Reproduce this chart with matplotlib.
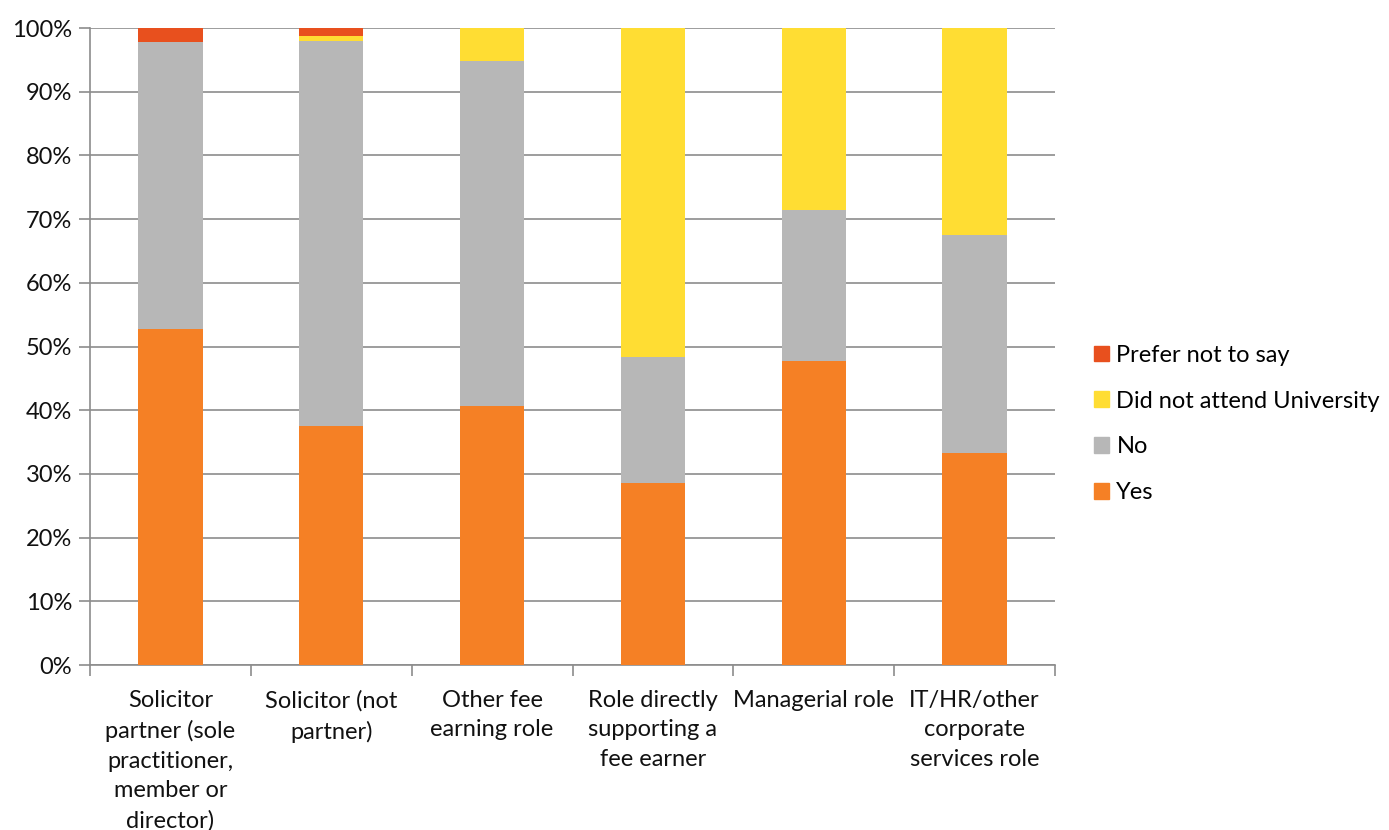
import matplotlib
matplotlib.use("Agg")
import matplotlib.pyplot as plt
from matplotlib.patches import Patch
from matplotlib.ticker import FixedLocator, PercentFormatter

plt.rcParams['font.family'] = ['Lato', 'DejaVu Sans']

categories = ["Solicitor\npartner (sole\npractitioner,\nmember or\ndirector)",
              "Solicitor (not\npartner)",
              "Other fee\nearning role",
              "Role directly\nsupporting a\nfee earner",
              "Managerial role",
              "IT/HR/other\ncorporate\nservices role"]
yes = [52.7, 37.5, 40.7, 28.6, 47.7, 33.3]
no = [45.1, 60.5, 54.1, 19.8, 23.7, 34.2]
did_not_attend = [0.0, 0.7, 5.2, 51.6, 28.6, 32.5]
prefer_not = [2.2, 1.3, 0.0, 0.0, 0.0, 0.0]

series = [("Yes", yes, "#F58025"),
          ("No", no, "#B7B7B7"),
          ("Did not attend University", did_not_attend, "#FFDD33"),
          ("Prefer not to say", prefer_not, "#E8501E")]

FS = 17

fig = plt.figure(figsize=(13.89, 8.3), dpi=100)
ax = fig.add_axes([90/1389, 1-665/830, (1055-90)/1389, (665-28)/830])

x = list(range(len(categories)))
bottom = [0.0]*len(categories)
for name, vals, col in series:
    ax.bar(x, vals, bottom=bottom, width=0.4, color=col, zorder=3, label=name)
    bottom = [b+v for b, v in zip(bottom, vals)]

ax.set_xlim(-0.5, len(categories)-0.5)
ax.set_ylim(0, 100)
ax.yaxis.set_major_locator(FixedLocator(range(0, 101, 10)))
ax.yaxis.set_major_formatter(PercentFormatter(decimals=0))
ax.grid(axis='y', color='#8C8C8C', linewidth=1.2, zorder=0)
ax.set_axisbelow(True)

ax.set_xticks([i+0.5 for i in range(-1, len(categories))])
ax.set_xticklabels([])
ax.set_xticks(x, minor=True)
ax.set_xticklabels(categories, minor=True, fontsize=FS, linespacing=1.5, color='#111111', va='top')
ax.tick_params(axis='x', which='minor', length=0, pad=18)
ax.tick_params(axis='x', which='major', length=8, color='#8C8C8C', width=1.2)
ax.tick_params(axis='y', length=8, color='#8C8C8C', width=1.2, labelsize=FS, labelcolor='#111111', pad=5)

for s in ['top', 'right']:
    ax.spines[s].set_visible(False)
for s in ['left', 'bottom']:
    ax.spines[s].set_color('#8C8C8C')
    ax.spines[s].set_linewidth(1.2)

handles = [Patch(color=col, label=name) for name, vals, col in reversed(series)]
fig.legend(handles=handles, loc='center left', bbox_to_anchor=(1094/1389, 1-424/830),
           frameon=False, fontsize=FS, handlelength=0.65, handleheight=0.65,
           handletextpad=0.3, labelspacing=1.05, borderaxespad=0, borderpad=0)

fig.savefig("out.png", dpi=100)
